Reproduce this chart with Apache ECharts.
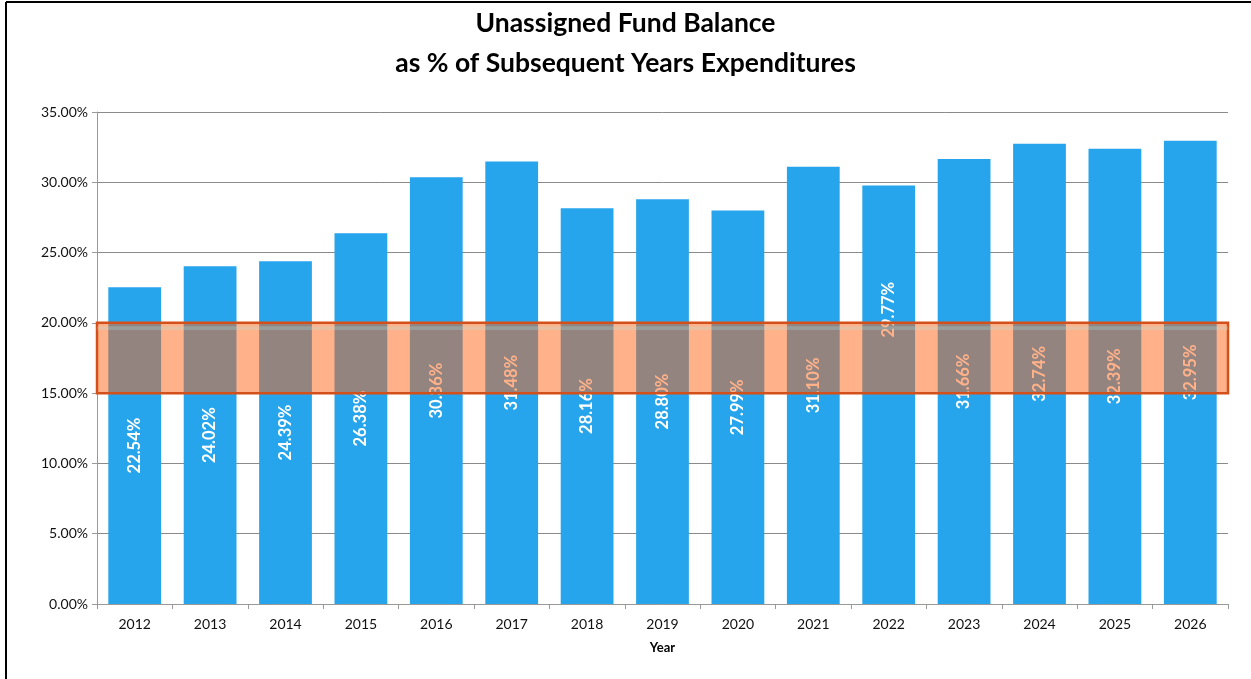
<!DOCTYPE html>
<html><head><meta charset="utf-8">
<script src="https://cdn.jsdelivr.net/npm/echarts@6/dist/echarts.min.js"></script>
<style>html,body{margin:0;padding:0;background:#fff}#c{width:1251px;height:679px}</style>
</head><body><div id="c"></div>
<script>
const years = ['2012','2013','2014','2015','2016','2017','2018','2019','2020','2021','2022','2023','2024','2025','2026'];
const values = [22.54,24.02,24.39,26.38,30.36,31.48,28.16,28.80,27.99,31.10,29.77,31.66,32.74,32.39,32.95];
const yTicks = [0,5,10,15,20,25,30,35];
const bandRange = [15,20];
const titleLines = ['Unassigned Fund Balance','as % of Subsequent Years Expenditures'];

const font = 'Lato, "Open Sans", sans-serif';
const barData = values.map((v,i)=>{
  const d = {value:v};
  if (years[i]==='2022') d.label = {offset:[85,0]};
  return d;
});
const chart = echarts.init(document.getElementById('c'));
chart.setOption({
  animation:false,
  title:{text:titleLines.join('\n'),left:'center',top:-2,
    textStyle:{fontFamily:font,fontSize:26.5,fontWeight:'bold',color:'#000',lineHeight:40}},
  graphic:[
    {type:'line',shape:{x1:6,y1:2,x2:1251,y2:2},style:{stroke:'#000',lineWidth:2}},
    {type:'line',shape:{x1:6,y1:2,x2:6,y2:679},style:{stroke:'#000',lineWidth:2}}
  ],
  grid:{left:97,right:23,top:112,bottom:75},
  xAxis:{type:'category',data:years,name:'Year',nameLocation:'middle',nameGap:37,
    nameTextStyle:{fontFamily:font,fontSize:13,fontWeight:'bold',color:'#000'},
    axisLine:{lineStyle:{color:'#999'}},
    axisTick:{show:true,lineStyle:{color:'#999'},length:5},
    axisLabel:{fontFamily:font,fontSize:14,color:'#111',margin:13}},
  yAxis:{type:'value',min:0,max:35,interval:5,
    axisLine:{show:true,lineStyle:{color:'#999'}},
    axisTick:{show:true,lineStyle:{color:'#999'},length:5,inside:false},
    axisLabel:{fontFamily:font,fontSize:14,color:'#111',margin:9,
      formatter:v=>yTicks.includes(v)?v.toFixed(2)+'%':''},
    splitLine:{lineStyle:{color:'#8a8a8a',width:1}}},
  series:[
    {type:'bar',data:barData,barCategoryGap:'30%',z:2,
      itemStyle:{color:'#27A5EC'},
      label:{show:true,position:'inside',rotate:90,color:'#fff',fontFamily:font,
        fontSize:16.5,fontWeight:'bold',formatter:p=>p.value.toFixed(2)+'%'}},
    {type:'line',data:[],z:10,silent:true,
      markArea:{silent:true,z:10,
        itemStyle:{color:'rgba(255,100,20,0.5)',borderColor:'#D4501A',borderWidth:2.5},
        data:[
          [{yAxis:bandRange[1]},{yAxis:bandRange[0]}],
          [{yAxis:19.75,itemStyle:{color:'rgba(170,235,230,0.25)',borderWidth:0}},{yAxis:19.5}]
        ]}}
  ]
});
</script></body></html>
